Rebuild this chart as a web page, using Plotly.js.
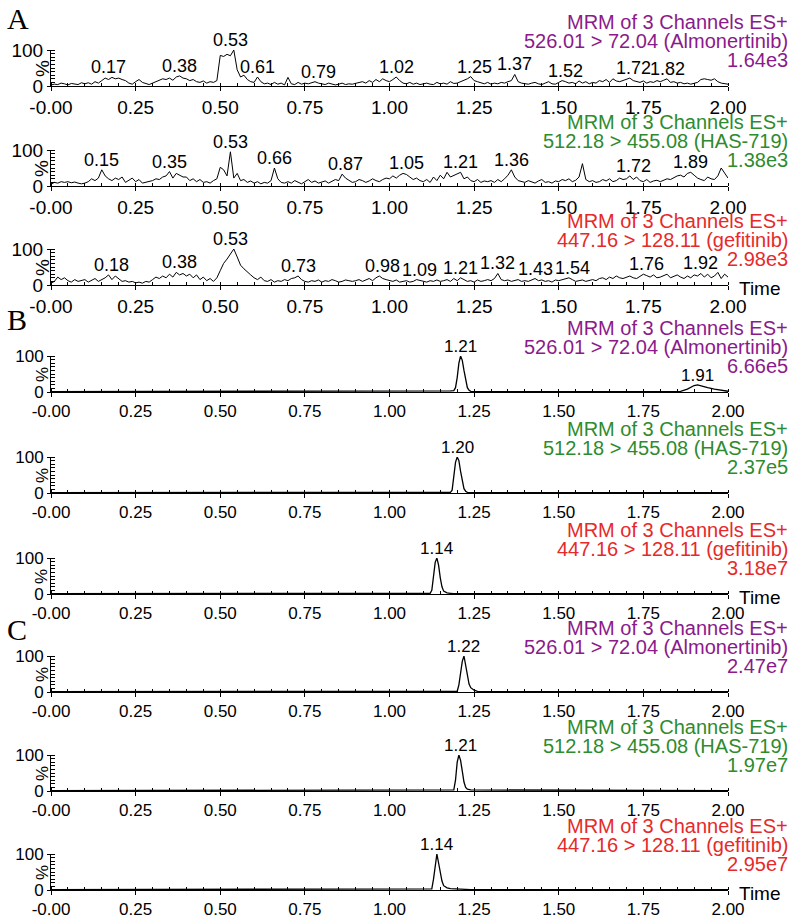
<!DOCTYPE html>
<html><head><meta charset="utf-8">
<script src="https://cdn.plot.ly/plotly-3.0.1.min.js"></script>
<style>html,body{margin:0;padding:0;background:#fff}#chart{width:800px;height:919px}</style>
</head><body><div id="chart"></div>
<script>
// ---------- DATA ----------
const scanStep = 0.01; // panel A scan interval (min)
const xTickVals = [0, 0.25, 0.5, 0.75, 1.0, 1.25, 1.5, 1.75, 2.0];
const xTickText = ["-0.00", "0.25", "0.50", "0.75", "1.00", "1.25", "1.50", "1.75", "2.00"];

// A: blank plasma (relative intensity %, one value per scan, 0.00-2.00 min)
const A1_almonertinib = [
 3,5,4,8,6,3,7,5,4,9, 6,9,5,12,8,15,22,18,24,20, 22,18,15,8,5,12,18,10,6,4,
 8,12,15,20,18,22,16,25,28,22, 20,15,18,12,10,14,8,12,10,15, 85,82,88,84,100,45,25,30,18,12,
 10,25,12,6,8,4,10,5,8,3, 24,6,4,10,5,8,6,10,12,8, 5,4,8,6,3,5,8,4,6,5,
 7,10,12,8,15,10,18,12,20,15, 12,18,25,15,8,6,10,5,8,4, 6,8,5,4,10,6,8,5,12,7,
 8,12,15,20,26,15,12,8,6,10, 5,8,6,10,8,12,15,32,12,8, 6,5,8,10,6,4,8,12,6,5,
 10,15,12,8,10,6,14,8,12,6, 10,8,15,12,18,10,20,14,12,16, 18,22,15,12,10,14,8,12,10,15,
 12,16,20,10,12,8,10,6,8,5, 8,10,18,20,18,16,20,12,8,6, 5];
const A2_has719 = [
 5,10,8,12,10,12,9,11,8,6, 8,12,20,15,22,45,28,20,15,22, 18,25,10,15,22,12,18,8,10,12,
 15,20,18,25,28,40,22,35,30,25, 25,15,20,12,18,10,12,8,15,20, 52,45,28,95,22,35,15,18,10,14,
 8,12,6,10,8,15,50,20,10,8, 12,8,15,10,6,12,18,10,14,8, 10,14,8,12,18,15,33,22,15,10,
 12,18,15,10,14,20,15,12,18,22, 20,28,22,30,35,32,25,18,22,15, 12,18,10,25,15,30,20,38,25,30,
 35,38,20,25,15,12,18,10,14,12, 15,10,18,12,20,30,45,25,15,12, 10,15,12,8,14,18,10,12,8,14,
 12,18,15,20,12,16,25,62,18,12, 15,10,12,18,14,20,12,15,22,18, 20,28,18,25,15,12,18,10,14,16,
 12,15,20,18,24,28,30,25,35,38, 30,22,18,15,25,20,18,28,50,35, 22];
const A3_gefitinib = [
 5,10,22,15,20,12,8,15,10,12, 15,8,12,18,10,15,20,28,15,25, 18,10,12,8,10,6,8,5,10,8,
 15,22,18,25,20,30,22,35,28,32, 25,30,20,28,15,22,12,18,10,20, 40,60,72,85,100,78,55,45,35,28,
 20,15,22,12,10,15,8,12,10,15, 12,18,20,25,15,10,8,12,10,14, 8,12,10,15,12,8,10,14,12,10,
 12,15,10,14,18,12,20,25,18,15, 12,10,14,8,10,12,8,10,15,12, 10,8,12,10,14,10,12,15,10,18,
 12,20,15,10,12,8,14,10,12,15, 12,18,32,15,12,14,10,12,15,10, 12,10,15,18,12,14,10,12,8,14,
 12,15,18,20,15,10,12,14,10,12, 15,12,18,20,15,22,18,25,20,18, 22,25,20,18,24,30,26,22,28,20,
 22,25,30,20,24,28,22,18,25,20, 28,25,32,22,30,20,25,35,18,30, 22];
const A1_labels = [0.17, 0.38, 0.53, 0.61, 0.79, 1.02, 1.25, 1.37, 1.52, 1.72, 1.82];
const A2_labels = [0.15, 0.35, 0.53, 0.66, 0.87, 1.05, 1.21, 1.36, 1.72, 1.89];
const A3_labels = [0.18, 0.38, 0.53, 0.73, 0.98, 1.09, 1.21, 1.32, 1.43, 1.54, 1.76, 1.92];

// B: blank plasma spiked with analytes
const B1_t = [0,0.5,1.0,1.15,1.17,1.18,1.19,1.195,1.20,1.205,1.21,1.215,1.22,1.225,1.23,1.235,1.24,1.25,1.30,1.34,1.36,1.38,1.5,1.8,1.86,1.88,1.90,1.91,1.92,1.94,1.96,1.98,2.0];
const B1_y = [1,1,1,1,2,3,4,12,40,80,100,88,60,30,12,5,2,1,1,1,3,1,1,1,2,8,18,20,17,12,8,4,2];
const B2_t = [0,1.0,1.17,1.18,1.185,1.19,1.195,1.20,1.205,1.21,1.215,1.22,1.225,1.23,1.24,1.3,2.0];
const B2_y = [1,1,1,2,8,40,85,100,90,60,30,12,5,2,1,1,1];
const B3_t = [0,1.0,1.11,1.12,1.125,1.13,1.135,1.14,1.145,1.15,1.155,1.16,1.17,1.18,1.19,1.25,2.0];
const B3_y = [1,1,1,2,10,45,88,100,80,45,20,8,3,2,1,1,1];
const B1_labels = [1.21, 1.91];
const B2_labels = [1.20];
const B3_labels = [1.14];

// C: patient sample
const C1_t = [0,1.0,1.19,1.20,1.205,1.21,1.215,1.22,1.225,1.23,1.235,1.24,1.25,1.26,1.3,2.0];
const C1_y = [1,1,1,2,20,55,85,100,70,40,22,12,5,2,1,1];
const C2_t = [0,1.0,1.18,1.19,1.195,1.20,1.205,1.21,1.215,1.22,1.225,1.23,1.24,1.25,1.27,1.28,1.3,2.0];
const C2_y = [1,1,1,3,30,80,100,85,55,25,10,5,3,3,3,2,1,1];
const C3_t = [0,1.0,1.12,1.125,1.13,1.135,1.14,1.145,1.15,1.155,1.16,1.17,1.18,1.2,1.23,1.24,2.0];
const C3_y = [1,1,1,3,30,75,100,75,45,25,12,6,4,3,3,1,1];
const C1_labels = [1.22];
const C2_labels = [1.21];
const C3_labels = [1.14];

const headerLine1 = "MRM of 3 Channels ES+";
const transitions = ["526.01 > 72.04 (Almonertinib)", "512.18 > 455.08 (HAS-719)", "447.16 > 128.11 (gefitinib)"];
const intensityA = ["1.64e3", "1.38e3", "2.98e3"];
const intensityB = ["6.66e5", "2.37e5", "3.18e7"];
const intensityC = ["2.47e7", "1.97e7", "2.95e7"];
const groupLetters = ["A", "B", "C"];

// ---------- BUILD ----------
function scanTimes(vals) { return vals.map((v, i) => +(i * scanStep).toFixed(3)); }
const W = 800, H = 919;
const colors = ["#8B1A8B", "#2E8B2E", "#E62A2A"];
const fam = "Liberation Sans, Arial, sans-serif";

const panels = [
  {t: scanTimes(A1_almonertinib), y: A1_almonertinib, labels: A1_labels, ch: 0, inten: intensityA[0], grp: 0},
  {t: scanTimes(A2_has719), y: A2_has719, labels: A2_labels, ch: 1, inten: intensityA[1], grp: 0},
  {t: scanTimes(A3_gefitinib), y: A3_gefitinib, labels: A3_labels, ch: 2, inten: intensityA[2], grp: 0},
  {t: B1_t, y: B1_y, labels: B1_labels, ch: 0, inten: intensityB[0], grp: 1},
  {t: B2_t, y: B2_y, labels: B2_labels, ch: 1, inten: intensityB[1], grp: 1},
  {t: B3_t, y: B3_y, labels: B3_labels, ch: 2, inten: intensityB[2], grp: 1},
  {t: C1_t, y: C1_y, labels: C1_labels, ch: 0, inten: intensityC[0], grp: 2},
  {t: C2_t, y: C2_y, labels: C2_labels, ch: 1, inten: intensityC[1], grp: 2},
  {t: C3_t, y: C3_y, labels: C3_labels, ch: 2, inten: intensityC[2], grp: 2},
];
const baselines = [86, 186, 285, 392, 493, 594, 692, 791, 890];
const panelPx = 36;
const xL = 51, xR = 728;
const letterY = [19, 319, 629];

const data = [], annotations = [];
const layout = {
  width: W, height: H, margin: {l: 0, r: 0, t: 0, b: 0},
  paper_bgcolor: "#fff", plot_bgcolor: "rgba(0,0,0,0)", showlegend: false,
  annotations: annotations
};
const py = p => (H - p) / H;

panels.forEach((p, i) => {
  const k = i + 1;
  const isA = p.grp === 0;
  const tickSize = isA ? 19 : 17;
  const hdrSize = 20;
  const lblSize = isA ? 18 : 17;
  const base = baselines[i];
  data.push({
    type: "scatter", mode: "lines", x: p.t, y: p.y,
    xaxis: "x" + k, yaxis: "y" + k,
    line: {color: "#000", width: isA ? 1 : 1.3, shape: "linear"},
    hoverinfo: "skip"
  });
  layout["xaxis" + (k === 1 ? "" : k)] = {
    domain: [xL / W, xR / W], range: [0, 2], anchor: "y" + k,
    showline: true, linecolor: "#000", linewidth: 1, showgrid: false, zeroline: false,
    tickmode: "array", tickvals: xTickVals, ticktext: xTickText,
    ticks: "outside", ticklen: 4, tickcolor: "#000", tickwidth: 1,
    tickfont: {family: fam, size: tickSize, color: "#000"},
    minor: {tickmode: "linear", tick0: 0, dtick: 0.05, ticks: "inside", ticklen: 3, tickcolor: "#000", showgrid: false},
    fixedrange: true
  };
  layout["yaxis" + (k === 1 ? "" : k)] = {
    domain: [py(base), py(base - panelPx)], range: [0, 100], anchor: "x" + k,
    showline: true, linecolor: "#000", linewidth: 1, showgrid: false, zeroline: false,
    tickmode: "array", tickvals: [0, 100], ticktext: ["0", "100"],
    ticks: "outside", ticklen: 3, tickcolor: "#000",
    tickfont: {family: fam, size: tickSize, color: "#000"},
    minor: {tickmode: "linear", tick0: 0, dtick: 10, ticks: "inside", ticklen: 4, tickcolor: "#000", showgrid: false},
    fixedrange: true
  };
  // peak labels
  p.labels.forEach(lt => {
    let m = 0;
    p.t.forEach((tt, j) => { if (Math.abs(tt - lt) <= 0.011 && p.y[j] > m) m = p.y[j]; });
    annotations.push({
      xref: "x" + k, yref: "y" + k, x: lt, y: m, text: lt.toFixed(2),
      showarrow: false, xanchor: "center", yanchor: "bottom", yshift: -2,
      font: {family: fam, size: lblSize, color: "#000"}
    });
  });
  // header
  const c = colors[p.ch];
  [[headerLine1, -64], [transitions[p.ch], -45], [p.inten, -26]].forEach(([txt, dy]) => {
    annotations.push({
      xref: "paper", yref: "paper", x: 790 / W, y: py(base + dy), text: txt,
      showarrow: false, xanchor: "right", yanchor: "middle",
      font: {family: fam, size: hdrSize, color: c}
    });
  });
  // % label
  annotations.push({
    xref: "paper", yref: "paper", x: 42 / W, y: py(base - 17), text: "%",
    showarrow: false, textangle: -90, xanchor: "center", yanchor: "middle",
    font: {family: fam, size: tickSize, color: "#000"}
  });
  if (p.ch === 2) {
    annotations.push({
      xref: "paper", yref: "paper", x: 737 / W, y: py(base + 3), text: "Time",
      showarrow: false, xanchor: "left", yanchor: "middle",
      font: {family: fam, size: 19, color: "#000"}
    });
  }
});
groupLetters.forEach((g, i) => {
  annotations.push({
    xref: "paper", yref: "paper", x: 5 / W, y: py(letterY[i]), text: g,
    showarrow: false, xanchor: "left", yanchor: "middle",
    font: {family: "Liberation Serif, Times New Roman, serif", size: 30, color: "#000"}
  });
});

Plotly.newPlot("chart", data, layout, {staticPlot: true, displayModeBar: false});
</script>
</body></html>
